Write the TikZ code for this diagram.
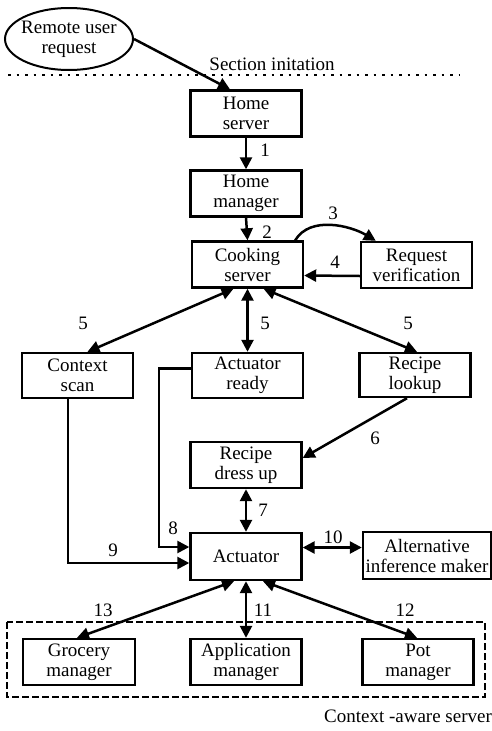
\documentclass[tikz,border=0pt]{standalone}
\usepackage{fontspec}
\setmainfont{Liberation Serif}
\usetikzlibrary{shapes,arrows.meta}
\tikzstyle{lb}=[font=\fontsize{19}{20}\selectfont,inner sep=0pt]
\tikzstyle{bx}=[rectangle,draw=black,line width=2.4pt,minimum width=111pt,minimum height=46pt,inner sep=0pt,align=center,font=\fontsize{19}{20}\selectfont]
\tikzstyle{arr}=[-{Triangle[length=12pt,width=12pt]},line width=2.5pt]
\tikzstyle{darr}=[{Triangle[length=12pt,width=12pt]}-{Triangle[length=12pt,width=12pt]},line width=2.5pt]

\begin{document}
\begin{tikzpicture}[x=1pt,y=-1pt]
\useasboundingbox (0,0) rectangle (492,731);
\node[ellipse,draw=black,line width=2pt,minimum width=128pt,minimum height=62pt,inner sep=0pt] (req) at (69,39) {};
\node[lb,align=center] (reqtxt) at (req) {Remote user\\request};
\node[lb] (sec) at (272,64) {Section initation};
\draw[dash pattern=on 2.5pt off 6pt,line width=2.5pt] (8,75) -- (460,75);
\node[bx] (hs) at (246,113.5) {Home\\server};
\node[bx] (hm) at (246,193.5) {Home\\manager};
\node[bx] (cs) at (247.5,264.5) {Cooking\\server};
\node[bx] (rv) at (416.5,265) {Request\\verification};
\node[bx,minimum height=45pt] (ctx) at (77.5,375.5) {Context\\scan};
\node[bx,minimum height=45pt] (ready) at (247.5,375.5) {Actuator\\ready};
\node[bx,minimum height=44pt] (rl) at (415,375) {Recipe\\lookup};
\node[bx] (rd) at (246,465) {Recipe\\dress up};
\node[bx,minimum height=47pt] (act) at (246,556.5) {Actuator};
\node[bx,minimum width=128pt,minimum height=47pt] (alt) at (427,555.5) {Alternative\\inference maker};
\draw[dash pattern=on 7pt off 3pt,line width=2pt] (7,622) rectangle (485,697);
\node[bx,minimum width=112pt] (gm) at (79,662) {Grocery\\manager};
\node[bx] (am) at (246,662) {Application\\manager};
\node[bx] (pm) at (418,662) {Pot\\manager};
\node[lb] (cas) at (408,716) {Context -aware server};
\draw[arr] (req.east) -- ([xshift=-16pt]hs.north);
\draw[arr] (hs.south) -- (hm.north);
\draw[arr] (hm.south) -- (cs.north);
\draw[arr] ([xshift=-9pt]cs.north east) .. controls +(15,-25) and +(-25,-15) .. ([xshift=16pt]rv.north west);
\draw[arr] ([yshift=-11pt]rv.west) -- ([yshift=-11pt]cs.east);
\draw[darr] ([xshift=-14pt]cs.south) -- ([xshift=10pt]ctx.north);
\draw[darr] (cs.south) -- (ready.north);
\draw[darr] ([xshift=16pt]cs.south) -- ([xshift=2pt]rl.north);
\draw[arr] ([xshift=-8pt]rl.south) -- ([yshift=7pt]rd.east);
\draw[darr] (rd.south) -- (act.north);
\draw[arr] ([yshift=7pt]ready.west) -- ++(-32,0) |- ([yshift=9.5pt]act.west);
\draw[arr] ([xshift=-9.5pt]ctx.south) |- ([yshift=-6.5pt]act.west);
\draw[darr] ([yshift=9pt]act.east) -- ([yshift=9pt]act.east -| alt.west);
\draw[darr] ([xshift=-12pt]act.south) -- ([xshift=-2pt]gm.north);
\draw[darr] (act.south) -- (am.north);
\draw[darr] ([xshift=17pt]act.south) -- ([xshift=-1pt]pm.north);
\node[lb] (n1) at (265,150) {1};
\node[lb] (n2) at (267,232) {2};
\node[lb] (n3) at (333,213) {3};
\node[lb] (n4) at (335,262) {4};
\node[lb] (n5a) at (83,323) {5};
\node[lb] (n5b) at (265,323) {5};
\node[lb] (n5c) at (408,323) {5};
\node[lb] (n6) at (375,438) {6};
\node[lb] (n7) at (263,510) {7};
\node[lb] (n8) at (173,528) {8};
\node[lb] (n9) at (113,550) {9};
\node[lb] (n10) at (333,537) {10};
\node[lb] (n11) at (263,610) {11};
\node[lb] (n12) at (405,610) {12};
\node[lb] (n13) at (103,610) {13};
\end{tikzpicture}
\end{document}
